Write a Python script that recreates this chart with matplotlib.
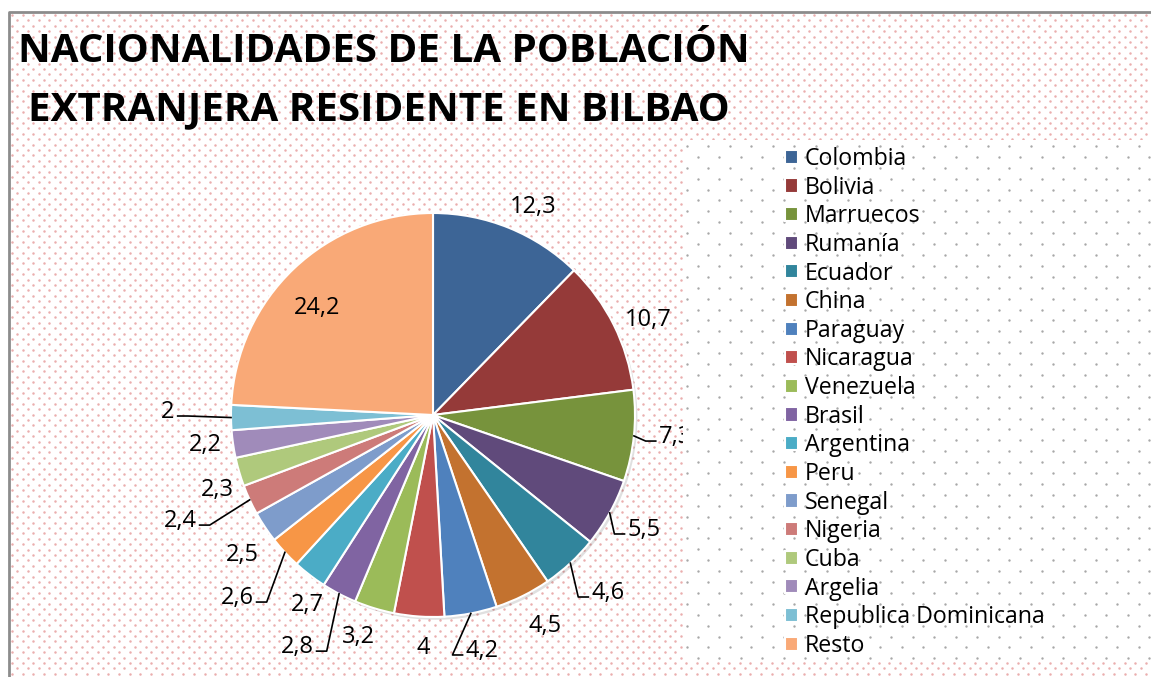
import numpy as np
import matplotlib.pyplot as plt

plt.rcParams['font.family'] = ['Open Sans', 'DejaVu Sans']

paises = ['Colombia', 'Bolivia', 'Marruecos', 'Rumanía', 'Ecuador', 'China',
          'Paraguay', 'Nicaragua', 'Venezuela', 'Brasil', 'Argentina', 'Peru',
          'Senegal', 'Nigeria', 'Cuba', 'Argelia', 'Republica Dominicana', 'Resto']
porcentajes = [12.3, 10.7, 7.3, 5.5, 4.6, 4.5, 4.2, 4, 3.2, 2.8, 2.7, 2.6,
               2.5, 2.4, 2.3, 2.2, 2, 24.2]
colores = ['#3D6596', '#953A39', '#77933C', '#604A7B', '#31859C', '#C3722F',
           '#4F81BD', '#C0504D', '#9BBB59', '#8064A2', '#4BACC6', '#F79646',
           '#7E9CCB', '#CD7B79', '#AFC97C', '#A08BBA', '#7DBFD4', '#F9A977']

# where each value label sits (pie radius units) and whether it gets a leader line
pos_etiquetas = [(0.495, 1.03), (1.064, 0.47), (1.20, -0.109), (1.045, -0.569),
                 (0.866, -0.881), (0.554, -1.045), (0.243, -1.168), (-0.05, -1.153),
                 (-0.371, -1.099), (-0.673, -1.149), (-0.624, -0.941), (-0.97, -0.906),
                 (-0.946, -0.693), (-1.252, -0.525), (-1.069, -0.371), (-1.129, -0.149),
                 (-1.312, 0.015), (-0.574, 0.53)]
con_linea = [False, False, True, True, True, False, True, False, False, True,
             False, True, False, True, False, False, True, False]

W, H = 1151, 677
CX, CY, R = 433, 415, 202

fig = plt.figure(figsize=(W / 100, H / 100), dpi=100)

# background: pink dotted chart area with grey border on top/left
bg = fig.add_axes([0, 0, 1, 1], zorder=0)
bg.set_xlim(0, W)
bg.set_ylim(H, 0)
bg.axis('off')
filas = np.arange(15, H, 5.4)
xs, ys = [], []
for i, fy in enumerate(filas):
    fx = np.arange(12 + (5.35 if i % 2 else 0), W, 10.7)
    xs.append(fx)
    ys.append(np.full_like(fx, fy))
bg.scatter(np.concatenate(xs), np.concatenate(ys), s=3.2, color='#EAAEAE',
           linewidths=0)
bg.plot([9, 9, W], [H, 12, 12], color='#8C8C8C', lw=2, solid_capstyle='butt')

# pie axes, 1 unit = pie radius
ax = fig.add_axes([0, 0, 1, 1], zorder=1)
ax.patch.set_alpha(0)
ax.axis('off')

sombra = plt.Circle((0.012, -0.014), 1.0, color='#000000', alpha=0.12, lw=0)
ax.add_patch(sombra)
wedges, _ = ax.pie(porcentajes, colors=colores, startangle=90, counterclock=False,
                   radius=1.0, wedgeprops=dict(edgecolor='white', linewidth=1.5))
ax.set_xlim(-CX / R, (W - CX) / R)
ax.set_ylim(-(H - CY) / R, CY / R)
ax.set_aspect('auto')

textos = []
for v, (lx, ly) in zip(porcentajes, pos_etiquetas):
    etiqueta = ('%g' % v).replace('.', ',')
    t = ax.text(lx, ly, etiqueta, ha='center', va='center', fontsize=17, color='black')
    textos.append(t)

fig.canvas.draw()
inv = ax.transData.inverted()
for w, t, linea in zip(wedges, textos, con_linea):
    if not linea:
        continue
    ang = np.deg2rad((w.theta1 + w.theta2) / 2)
    ex, ey = np.cos(ang), np.sin(ang)
    bb = t.get_window_extent().transformed(inv)
    ly = (bb.y0 + bb.y1) / 2 - 0.02
    if ex > 0:
        fx = bb.x0 - 0.015
        codo = fx - 0.05
    else:
        fx = bb.x1 + 0.015
        codo = fx + 0.05
    ax.plot([ex, codo, fx], [ey, ly, ly], color='black', lw=1.2, zorder=5)

# legend box: white with grey dots, drawn on top
x0, y0, x1, y1 = 683, 140, W, 660
lg = fig.add_axes([x0 / W, 1 - y1 / H, (x1 - x0) / W, (y1 - y0) / H], zorder=2)
lg.set_xlim(x0, x1)
lg.set_ylim(y1, y0)
lg.axis('off')
lg.add_patch(plt.Rectangle((x0, y0), x1 - x0, y1 - y0, color='white', lw=0, zorder=0))
xs, ys = [], []
for i, fy in enumerate(np.arange(y0 + 6, y1, 10.9)):
    fx = np.arange(x0 + 4 + (10.75 if i % 2 else 0), x1, 21.5)
    xs.append(fx)
    ys.append(np.full_like(fx, fy))
lg.scatter(np.concatenate(xs), np.concatenate(ys), s=3, color='#A8A8A8', linewidths=0,
           zorder=1)
lg.legend(wedges, paises, loc='upper left', bbox_to_anchor=(785 / W, 1 - 147 / H),
          bbox_transform=fig.transFigure, frameon=False, fontsize=16.7,
          handlelength=0.56, handleheight=0.56, handletextpad=0.3,
          labelspacing=0.20, borderpad=0, borderaxespad=0)

fig.text(18 / W, 1 - 62 / H, 'NACIONALIDADES DE LA POBLACIÓN', fontsize=29,
         fontweight='bold', ha='left', va='baseline')
fig.text(28 / W, 1 - 120 / H, 'EXTRANJERA RESIDENTE EN BILBAO', fontsize=29,
         fontweight='bold', ha='left', va='baseline')

fig.savefig('out.png', dpi=100)
